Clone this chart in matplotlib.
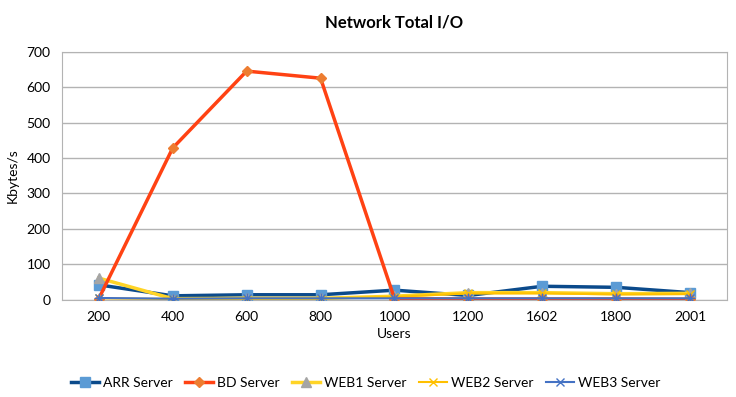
import matplotlib
matplotlib.use("Agg")
import matplotlib.pyplot as plt

# chart data
users = ["200", "400", "600", "800", "1000", "1200", "1602", "1800", "2001"]
arr = [42, 11, 14, 14, 27, 12, 38, 35, 20]
bd = [3, 428, 645, 625, 3, 2, 2, 2, 1]
web1 = [61, 3, 4, 4, 10, 20, 20, 17, 18]
web2 = [4, 2, 3, 3, 8, 18, 18, 15, 16]
web3 = [5, 3, 4, 4, 4, 4, 4, 4, 4]

plt.rcParams['font.family'] = ['Lato', 'DejaVu Sans']

fig = plt.figure(figsize=(7.36, 3.97), dpi=100)
ax = fig.add_axes([0.084, 0.245, 0.904, 0.625])

x = list(range(len(users)))

ax.plot(x, arr, color="#0B4A8B", lw=2.5, marker="s", ms=7,
        mfc="#5B9BD5", mec="#5B9BD5", label="ARR Server", zorder=3)
ax.plot(x, bd, color="#FF4213", lw=2.5, marker="D", ms=5,
        mfc="#ED7D31", mec="#ED7D31", label="BD Server", zorder=4)
ax.plot(x, web1, color="#FFD426", lw=2.5, marker="^", ms=7,
        mfc="#A5A5A5", mec="#A5A5A5", label="WEB1 Server", zorder=3)
ax.plot(x, web2, color="#FFC000", lw=1.5, marker="x", ms=6,
        mec="#FFC000", label="WEB2 Server", zorder=3)
ax.plot(x, web3, color="#4472C4", lw=1.5, marker="x", ms=6,
        mec="#4472C4", label="WEB3 Server", zorder=5)
ax.plot(x, web3, color="#4472C4", lw=0, marker="+", ms=7,
        mec="#4472C4", zorder=5)

ax.set_xlim(-0.5, len(users) - 0.5)
ax.set_ylim(0, 700)
ax.set_yticks(range(0, 701, 100))
ax.set_xticks(x)
ax.set_xticklabels(users)
ax.tick_params(length=0, labelsize=10, pad=8)
ax.grid(axis="y", color="#B3B3B3", lw=1)
ax.set_axisbelow(True)
for s in ax.spines.values():
  s.set_color("#B3B3B3")

ax.set_xlabel("Users", fontsize=10, labelpad=4)
ax.set_ylabel("Kbytes/s", fontsize=10, labelpad=6)
ax.set_title("Network Total I/O", fontsize=12, fontweight="bold", pad=17)

ax.legend(loc="upper center", bbox_to_anchor=(0.457, -0.26), ncol=5,
          frameon=False, fontsize=10, handlelength=2.0, columnspacing=0.9,
          handletextpad=0.3)

fig.savefig("out.png", dpi=100)
